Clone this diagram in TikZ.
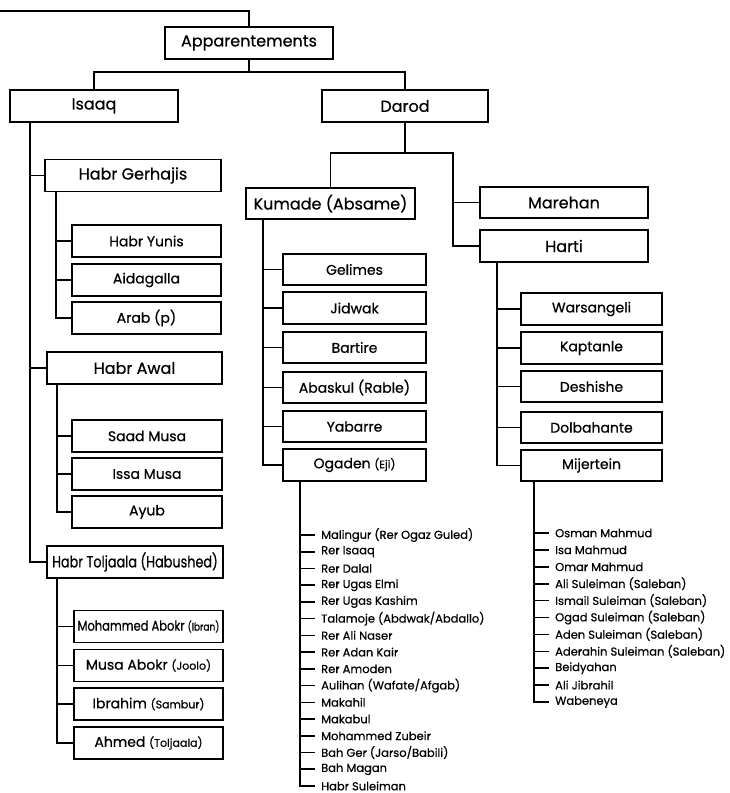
\documentclass[tikz,border=0pt]{standalone}
\usepackage{fontspec}
\setmainfont{Poppins}[FakeBold=0.6]
\tikzset{
  bigbox/.style={draw, line width=1.6pt, inner sep=0pt, minimum height=32pt, font=\fontsize{16}{18}\selectfont},
  leafbox/.style={draw, line width=1.6pt, inner sep=0pt, minimum height=32pt, font=\fontsize{14}{16}\selectfont},
  item/.style={anchor=west, inner xsep=6pt, inner ysep=0pt, font=\fontsize{11.5}{13}\selectfont},
  conn/.style={line width=1.6pt},
}
\newcommand{\sm}[1]{{\fontsize{11}{12}\selectfont #1}}
\begin{document}
\begin{tikzpicture}[x=1pt,y=-1pt]
\useasboundingbox (0,0) rectangle (729,793);
% level 0-1
\node[bigbox, minimum width=168pt] (app) at (249,43) {Apparentements};
\node[bigbox, minimum width=168pt] (isaaq) at (94,106) {Isaaq};
\node[bigbox, minimum width=166pt] (darod) at (405,106) {Darod};
\coordinate (topend) at (0,11);
\draw[conn] (topend) -| (app.north);
\coordinate (aj) at (249,72);
\draw[conn] (app.south) -- (aj) -| (isaaq.north);
\draw[conn] (aj) -| (darod.north);
% Isaaq branch
\node[bigbox, minimum width=176pt] (hg) at (133,175.5) {Habr Gerhajis};
\node[leafbox, minimum width=149pt] (hy) at (146.5,241) {Habr Yunis};
\node[leafbox, minimum width=149pt] (aid) at (146.5,280) {Aidagalla};
\node[leafbox, minimum width=149pt] (arab) at (146.5,318) {Arab (p)};
\node[bigbox, minimum width=175pt] (ha) at (134.5,368) {Habr Awal};
\node[leafbox, minimum width=150pt] (saad) at (147,436) {Saad Musa};
\node[leafbox, minimum width=150pt] (issa) at (147,474) {Issa Musa};
\node[leafbox, minimum width=150pt] (ayub) at (147,512) {Ayub};
\node[bigbox, minimum width=176pt] (ht) at (135,562) {\scalebox{0.8}[1]{Habr Toljaala (Habushed)}};
\node[leafbox, minimum width=149pt] (ma) at (148.5,626.5) {\scalebox{0.82}[1]{Mohammed Abokr \sm{(Ibran)}}};
\node[leafbox, minimum width=149pt] (mua) at (148.5,665.5) {Musa Abokr \sm{(Joolo)}};
\node[leafbox, minimum width=149pt] (ib) at (148.5,704) {Ibrahim \sm{(Sambur)}};
\node[leafbox, minimum width=149pt] (ah) at (148.5,743) {Ahmed \sm{(Toljaala)}};
\foreach \c in {hg,ha,ht} \draw[conn] ([xshift=21pt]isaaq.south west) |- (\c.west);
\foreach \c in {hy,aid,arab} \draw[conn] ([xshift=12pt]hg.south west) |- (\c.west);
\foreach \c in {saad,issa,ayub} \draw[conn] ([xshift=11pt]ha.south west) |- (\c.west);
\foreach \c in {ma,mua,ib,ah} \draw[conn] ([xshift=11pt]ht.south west) |- (\c.west);
% Darod branch
\node[bigbox, minimum width=169pt, minimum height=31pt] (kum) at (330.5,203.5) {Kumade (Absame)};
\node[bigbox, minimum width=168pt, minimum height=31pt] (mar) at (564,202.5) {Marehan};
\node[bigbox, minimum width=168pt] (harti) at (564,246) {Harti};
\coordinate (dj) at (405,153);
\draw[conn] (darod.south) -- (dj) -| (kum.north);
\draw[conn] (dj) -| ([xshift=-26pt]harti.west) -- (harti.west);
\draw[conn] ([xshift=-26pt]mar.west) -- (mar.west);
\node[leafbox, minimum width=143pt, minimum height=31pt] (gel) at (354.5,269.5) {Gelimes};
\node[leafbox, minimum width=143pt] (jid) at (354.5,308) {Jidwak};
\node[leafbox, minimum width=143pt, minimum height=31pt] (bar) at (354.5,347.5) {Bartire};
\node[leafbox, minimum width=143pt, minimum height=31pt] (aba) at (354.5,387.5) {Abaskul (Rable)};
\node[leafbox, minimum width=143pt, minimum height=31pt] (yab) at (354.5,426.5) {Yabarre};
\node[leafbox, minimum width=143pt] (oga) at (354.5,465) {Ogaden \sm{(Eji)}};
\foreach \c in {gel,jid,bar,aba,yab,oga} \draw[conn] ([xshift=18pt]kum.south west) |- (\c.west);
\node[leafbox, minimum width=141pt] (wars) at (591.5,309) {Warsangeli};
\node[leafbox, minimum width=141pt] (kap) at (591.5,348) {Kaptanle};
\node[leafbox, minimum width=141pt, minimum height=31pt] (desh) at (591.5,386.5) {Deshishe};
\node[leafbox, minimum width=141pt, minimum height=31pt] (dolb) at (591.5,427.5) {Dolbahante};
\node[leafbox, minimum width=141pt, minimum height=31pt] (mij) at (591.5,465.5) {Mijertein};
\foreach \c in {wars,kap,desh,dolb,mij} \draw[conn] ([xshift=18pt]harti.south west) |- (\c.west);
% Ogaden list
\foreach [count=\i from 0] \t in {Malingur (Rer Ogaz Guled),Rer Isaaq,Rer Dalal,Rer Ugas Elmi,Rer Ugas Kashim,Talamoje (Abdwak/Abdallo),Rer Ali Naser,Rer Adan Kair,Rer Amoden,Aulihan (Wafate/Afgab),Makahil,Makabul,Mohammed Zubeir,Bah Ger (Jarso/Babili),Bah Magan,Habr Suleiman}{
  \node[item] (og\i) at (315,535+16.73*\i) {\t};
  \draw[conn] ([xshift=18pt]oga.south west) |- (og\i.west);
}
% Mijertein list
\foreach [count=\i from 0] \t in {Osman Mahmud,Isa Mahmud,Omar Mahmud,Ali Suleiman (Saleban),Ismail Suleiman (Saleban),Ogad Suleiman (Saleban),Aden Suleiman (Saleban),Aderahin Suleiman (Saleban),Beidyahan,Ali Jibrahil,Wabeneya}{
  \node[item] (mj\i) at (549,533+16.9*\i) {\t};
  \draw[conn] ([xshift=14pt]mij.south west) |- (mj\i.west);
}
\end{tikzpicture}
\end{document}
